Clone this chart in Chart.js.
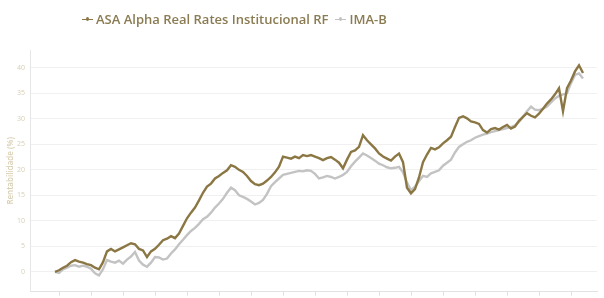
<!DOCTYPE html>
<html>
<head>
<meta charset="utf-8">
<script src="https://cdn.jsdelivr.net/npm/chart.js@4.4.1/dist/chart.umd.min.js"></script>
<style>
  html, body { margin: 0; padding: 0; background: #ffffff; overflow: hidden; }
  #wrap { position: relative; width: 604px; height: 310px; }
  #legend { position: absolute; left: 82px; top: 10px; font-family: "Open Sans", sans-serif; font-weight: 600; font-size: 13px; color: #8a7b52; white-space: nowrap; }
  #legend .item { display: inline-block; margin-right: 7px; }
  #legend .mk { display: inline-block; position: relative; width: 11px; height: 10px; margin-right: 3px; vertical-align: 0px; }
  #legend .mk i { position: absolute; left: 0; right: 0; top: 4.5px; height: 1px; }
  #legend .mk b { position: absolute; left: 4px; top: 3px; width: 3px; height: 4px; border-radius: 50%; }
</style>
</head>
<body>
<div id="wrap">
  <div id="legend"></div>
  <canvas id="c" width="604" height="310"></canvas>
</div>
<script>
// ---- data ----
const seriesNames = ["ASA Alpha Real Rates Institucional RF", "IMA-B"];

const asaAlpha = [
  0.0, 0.3, 0.8, 1.2, 1.9, 2.3, 2.0, 1.8, 1.5, 1.3,
  0.8, 0.5, 1.9, 4.0, 4.5, 4.0, 4.4, 4.8, 5.2, 5.6,
  5.4, 4.5, 4.2, 2.9, 4.0, 4.5, 5.3, 6.2, 6.5, 7.0,
  6.6, 7.5, 9.0, 10.5, 11.6, 12.6, 14.0, 15.5, 16.7, 17.3,
  18.3, 18.8, 19.4, 19.9, 20.9, 20.6, 20.0, 19.6, 18.8, 17.8,
  17.2, 17.0, 17.3, 17.9, 18.6, 19.5, 20.6, 22.6, 22.4, 22.2,
  22.6, 22.3, 22.9, 22.7, 22.9, 22.6, 22.3, 21.9, 22.3, 22.5,
  22.0, 21.4, 20.3, 22.0, 23.5, 23.8, 24.5, 26.8, 25.8, 25.0,
  24.2, 23.2, 22.6, 22.2, 21.8, 22.6, 23.2, 21.5, 16.5, 15.4,
  16.2, 18.5, 21.5, 23.0, 24.3, 24.0, 24.4, 25.2, 25.8, 26.5,
  28.4, 30.2, 30.5, 30.1, 29.5, 29.3, 29.0, 27.8, 27.3, 28.0,
  28.2, 27.9, 28.4, 28.8, 28.1, 28.5, 29.6, 30.4, 31.1, 30.6,
  30.3, 31.0, 32.0, 33.0, 33.8, 34.8, 36.0, 31.5, 36.0, 37.5,
  39.3, 40.5, 39.0
];

const imaB = [
  0.0, -0.2, 0.5, 0.8, 1.2, 1.3, 1.0, 1.2, 1.0, 0.6,
  -0.3, -0.7, 0.5, 2.3, 2.0, 1.8, 2.2, 1.6, 2.4, 3.0,
  3.9, 2.2, 1.4, 1.0, 1.8, 2.9, 2.8, 2.4, 2.6, 3.6,
  4.4, 5.4, 6.3, 7.2, 8.0, 8.6, 9.4, 10.3, 10.8, 11.6,
  12.6, 13.4, 14.3, 15.5, 16.5, 16.0, 15.0, 14.7, 14.3, 13.8,
  13.2, 13.5, 14.1, 15.3, 16.8, 17.6, 18.3, 19.0, 19.2, 19.4,
  19.6, 19.8, 19.7, 19.9, 19.8, 19.2, 18.3, 18.5, 18.8, 18.6,
  18.3, 18.6, 19.0, 19.6, 20.7, 21.6, 22.4, 23.2, 22.8, 22.3,
  21.8, 21.2, 20.9, 20.5, 20.3, 20.4, 20.6, 19.5, 17.5, 16.0,
  16.7, 17.8, 18.8, 18.6, 19.3, 19.6, 19.9, 20.8, 21.4, 22.0,
  23.4, 24.5, 25.0, 25.5, 25.8, 26.3, 26.6, 26.9, 27.1, 27.4,
  27.6, 27.8, 28.0, 28.2, 28.4, 28.7, 29.4, 30.4, 31.5, 32.4,
  31.8, 31.7, 32.0, 32.4, 33.2, 34.0, 34.5, 34.8, 35.0, 37.0,
  38.6, 38.9, 37.9
];

const yTicks = [0, 5, 10, 15, 20, 25, 30, 35, 40];
const xTickLabels = [
  "jan/17", "abr/17", "jul/17", "out/17", "jan/18", "abr/18", "jul/18", "out/18", "jan/19",
  "abr/19", "jul/19", "out/19", "jan/20", "abr/20", "jul/20", "out/20", "jan/21"
];
// ---- end data ----

const colors = ["#8b7744", "#c3c3c3"];
const STEP = 8; // observations between x-axis ticks
const FIRST = 1;

// HTML legend (real text)
const lg = document.getElementById('legend');
seriesNames.forEach((n, k) => {
  const it = document.createElement('span');
  it.className = 'item';
  const mk = document.createElement('span');
  mk.className = 'mk';
  mk.innerHTML = '<i style="background:' + colors[k] + '"></i><b style="background:' + colors[k] + '"></b>';
  it.appendChild(mk);
  it.appendChild(document.createTextNode(n));
  lg.appendChild(it);
});

const toPts = arr => arr.map((v, i) => ({ x: i, y: v }));

new Chart(document.getElementById('c'), {
  type: 'line',
  data: {
    datasets: [
      { label: seriesNames[0], data: toPts(asaAlpha), borderColor: colors[0], borderWidth: 2.4, pointRadius: 0, tension: 0 },
      { label: seriesNames[1], data: toPts(imaB), borderColor: colors[1], borderWidth: 2.4, pointRadius: 0, tension: 0 }
    ]
  },
  options: {
    responsive: false,
    animation: false,
    layout: { padding: { top: 50, right: 7, left: 0, bottom: 0 } },
    plugins: { legend: { display: false }, tooltip: { enabled: false } },
    scales: {
      x: {
        type: 'linear',
        min: -6.25,
        max: 135.5,
        afterBuildTicks: s => { s.ticks = xTickLabels.map((t, k) => ({ value: FIRST + STEP * k })); },
        afterFit: s => { s.height = 18.3; },
        ticks: {
          autoSkip: false, maxRotation: 0, padding: 1,
          color: '#c8c8c8', font: { family: 'Open Sans', size: 7 },
          callback: (v) => xTickLabels[Math.round((v - FIRST) / STEP)]
        },
        grid: { drawOnChartArea: false, drawTicks: true, tickLength: 4, color: '#e2e2e2' },
        border: { color: '#e2e2e2', width: 1 }
      },
      y: {
        min: -3.9,
        max: 43.5,
        afterBuildTicks: s => { s.ticks = yTicks.map(v => ({ value: v })); },
        afterFit: s => { s.width = 30; },
        ticks: { color: '#d6cfb4', font: { family: 'Open Sans', size: 7 }, padding: 5 },
        grid: { color: '#f0f0f0', drawTicks: false },
        border: { color: '#e6e6e6', width: 1 },
        title: {
          display: true, text: 'Rentabilidade (%)', color: '#d8d0b3',
          font: { family: 'Open Sans', size: 8, weight: '600' },
          padding: { top: 6, bottom: 0 }
        }
      }
    }
  }
});
</script>
</body>
</html>
